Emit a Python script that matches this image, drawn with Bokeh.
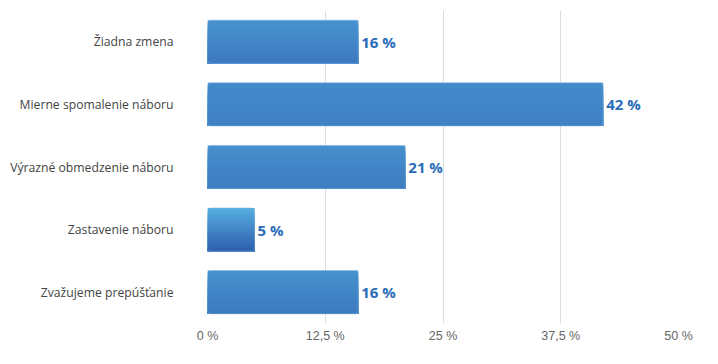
from bokeh.plotting import figure
from bokeh.models import ColumnDataSource, FixedTicker, CustomJSTickFormatter
from bokeh.core.properties import value
from bokeh.embed import file_html
from bokeh.resources import INLINE

categories = ["Žiadna zmena", "Mierne spomalenie náboru", "Výrazné obmedzenie náboru",
              "Zastavenie náboru", "Zvažujeme prepúšťanie"]
values = [16, 42, 21, 5, 16]
value_labels = ["16 %", "42 %", "21 %", "5 %", "16 %"]
x_ticks = [0, 12.5, 25, 37.5, 50]

W, H = 718, 364
LEFT, RIGHT, TOP, BOTTOM = 207, 40, 10, 41
BAR_H = 0.69

p = figure(width=W, height=H, output_backend="svg", toolbar_location=None,
           x_range=(0, 50), y_range=(-0.5, len(categories) - 0.5),
           min_border_left=LEFT, min_border_right=RIGHT,
           min_border_top=TOP, min_border_bottom=BOTTOM)
p.outline_line_color = None
p.background_fill_color = "white"
p.border_fill_color = "white"

ypos = [len(categories) - 1 - i for i in range(len(categories))]

# gradient colours
top_c = (0x57, 0xb1, 0xe3)
bot_c = (0x2c, 0x5b, 0xaa)
mid_c = tuple((a + b) / 2 for a, b in zip(top_c, bot_c))
px_per_unit = (W - LEFT - RIGHT) / 50.0
bar_px = BAR_H * (H - TOP - BOTTOM) / len(categories)

N = 14
ql, qr, qt, qb, qc = [], [], [], [], []
for v, y in zip(values, ypos):
    spread = min(1.0, bar_px / (v * px_per_unit))
    for k in range(N):
        t = (k + 0.5) / N  # 0 top -> 1 bottom
        f = (t - 0.5) * spread
        col = tuple(int(round(m + (b - a) * f)) for m, a, b in zip(mid_c, top_c, bot_c))
        ql.append(0)
        qr.append(v)
        qt.append(y + BAR_H / 2 - k * BAR_H / N)
        qb.append(y - BAR_H / 2)
        qc.append("#%02x%02x%02x" % col)

p.quad(left=ql, right=qr, top=qt, bottom=qb, fill_color=qc, line_color=None)

src = ColumnDataSource(dict(y=ypos, v=values, lab=value_labels))
p.hbar(y="y", left=0, right="v", height=BAR_H, source=src, fill_color=None,
       line_color="#7fb3e3", line_alpha=0.5, line_width=1, border_radius=3)

p.text(x="v", y="y", text="lab", source=src, x_offset=3,
       text_align="left", text_baseline="middle",
       text_font=value("Open Sans"), text_font_style="bold",
       text_font_size="15px", text_color="#2a6cb8")

# axes
p.xaxis.ticker = FixedTicker(ticks=x_ticks)
p.xaxis.formatter = CustomJSTickFormatter(code="return tick.toString().replace('.', ',') + ' %';")
p.xaxis.axis_line_color = None
p.xaxis.major_tick_line_color = None
p.xaxis.minor_tick_line_color = None
p.xaxis.major_tick_out = 0
p.xaxis.major_label_standoff = 5
p.xaxis.major_label_text_font = "Liberation Sans"
p.xaxis.major_label_text_font_size = "12.5px"
p.xaxis.major_label_text_color = "#666666"

p.yaxis.ticker = FixedTicker(ticks=ypos)
p.yaxis.major_label_overrides = {y: c for y, c in zip(ypos, categories)}
p.yaxis.axis_line_color = None
p.yaxis.major_tick_line_color = None
p.yaxis.minor_tick_line_color = None
p.yaxis.major_tick_out = 0
p.yaxis.major_label_standoff = 34
p.yaxis.major_label_text_font = "Open Sans"
p.yaxis.major_label_text_font_size = "12.2px"
p.yaxis.major_label_text_color = "#444444"

p.xgrid.grid_line_color = "#dddddd"
p.xgrid.grid_line_width = 1
p.ygrid.grid_line_color = None

open("out.html", "w").write(file_html(p, INLINE))
